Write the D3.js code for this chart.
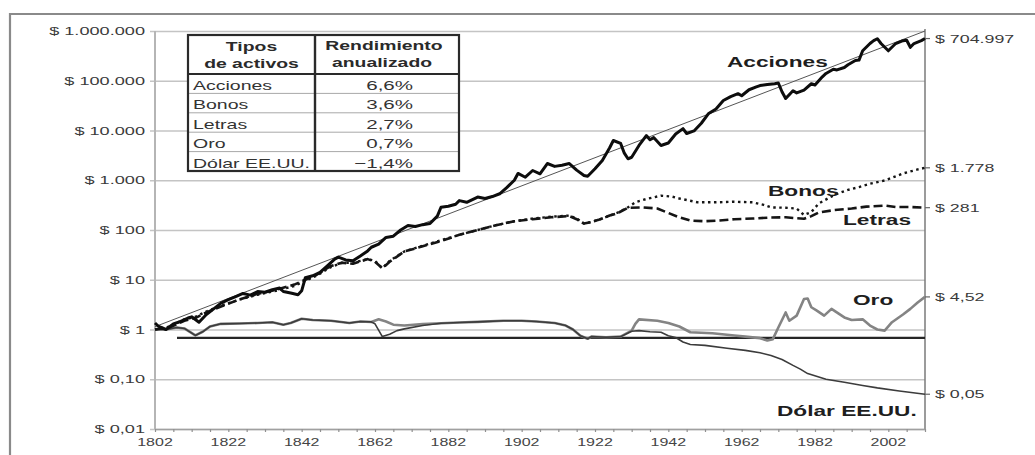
<!DOCTYPE html>
<html>
<head>
<meta charset="utf-8">
<script src="https://cdn.jsdelivr.net/npm/d3@7"></script>
<style>
  html, body { margin: 0; padding: 0; background: #fff; }
  svg { display: block; }
  text { font-family: "Liberation Sans", Arial, Helvetica, sans-serif; }
</style>
</head>
<body>
<svg id="chart" width="1035" height="455"></svg>
<script>
// ---------------- DATA ----------------
const yTickValues = [0.01, 0.1, 1, 10, 100, 1000, 10000, 100000, 1000000];
const yTickLabels = ["$ 0,01", "$ 0,10", "$ 1", "$ 10", "$ 100", "$ 1.000", "$ 10.000", "$ 100.000", "$ 1.000.000"];
const xLabelYears = [1802, 1822, 1842, 1862, 1882, 1902, 1922, 1942, 1962, 1982, 2002];
const xMinorYears = d3.range(1802, 2013, 5);

const tableHeader = [["Tipos", "de activos"], ["Rendimiento", "anualizado"]];
const tableAssets = ["Acciones", "Bonos", "Letras", "Oro", "Dólar EE.UU."];
const tableReturns = ["6,6%", "3,6%", "2,7%", "0,7%", "\u22121,4%"];

const endLabels = ["$ 704.997", "$ 1.778", "$ 281", "$ 4,52", "$ 0,05"];
const endValues = [704997, 1778, 281, 4.52, 0.05];

const acciones = [
  [1802,1.35],[1803,1.15],[1805,1.0],[1807,1.3],[1809,1.45],[1811,1.7],[1812,1.8],[1814,1.4],[1816,2.0],
  [1818,2.6],[1820,3.4],[1822,4.0],[1824,4.6],[1826,5.3],[1828,4.9],[1830,5.8],[1832,5.6],[1834,6.3],
  [1836,6.8],[1837,5.8],[1839,5.4],[1841,5.0],[1842,6.0],[1843,11],[1845,12],[1847,14],[1849,19],
  [1851,26],[1852,28.5],[1854,25],[1856,24],[1858,30],[1860,38],[1861,45],[1863,52],[1865,71],[1867,75],
  [1869,100],[1871,123],[1873,118],[1875,128],[1877,135],[1879,190],[1880,286],[1882,300],[1884,330],
  [1885,390],[1887,360],[1890,460],[1892,430],[1894,470],[1896,535],[1898,720],[1900,1000],[1901,1370],
  [1903,1150],[1905,1570],[1907,1350],[1909,2170],[1911,1900],[1913,2000],[1915,2170],[1917,1600],
  [1919,1250],[1920,1200],[1922,1700],[1924,2500],[1926,4500],[1927,6300],[1929,5500],[1930,3500],
  [1931,2700],[1932,2900],[1934,5000],[1936,7900],[1937,6500],[1938,7200],[1940,5000],[1942,5600],
  [1944,8500],[1946,10900],[1947,8700],[1949,9800],[1951,14000],[1953,22000],[1955,27000],[1957,40000],
  [1959,48000],[1961,55000],[1962,50000],[1964,66000],[1966,75000],[1967,80000],[1969,84000],[1971,87000],
  [1972,90000],[1973,60000],[1974,44000],[1976,63000],[1977,57000],[1979,65000],[1981,87000],[1982,82000],
  [1984,120000],[1985,140000],[1987,170000],[1988,165000],[1990,185000],[1991,210000],[1993,255000],
  [1994,260000],[1995,400000],[1997,560000],[1998,640000],[1999,700000],[2000,560000],[2002,400000],
  [2004,560000],[2006,640000],[2007,650000],[2008,470000],[2009,560000],[2011,640000],[2012,704997]
];
const tendenciaAcciones = [[1802,1.14],[2012,1000000]];

const bonos = [
  [1802,1.0],[1806,1.15],[1810,1.6],[1813,1.8],[1816,2.3],[1820,3.0],[1825,4.0],[1830,5.0],[1835,6.0],
  [1840,7.5],[1843,9.5],[1846,12],[1850,18],[1853,22],[1856,22],[1860,26],[1862,24],[1864,17],[1866,24],
  [1870,37],[1875,48],[1880,62],[1885,80],[1890,100],[1895,125],[1900,150],[1905,170],[1910,185],
  [1915,195],[1917,170],[1919,135],[1921,145],[1923,160],[1926,195],[1928,220],[1931,285],[1933,360],
  [1936,420],[1940,490],[1943,470],[1945,430],[1950,360],[1955,360],[1960,370],[1965,360],[1968,320],
  [1970,285],[1974,280],[1977,270],[1979,200],[1981,230],[1983,340],[1986,450],[1988,535],[1991,640],
  [1994,730],[1997,850],[2001,990],[2004,1200],[2006,1370],[2008,1500],[2010,1650],[2012,1778]
];

const letras = [
  [1802,1.0],[1806,1.1],[1810,1.5],[1813,1.7],[1816,2.2],[1820,2.9],[1825,4.0],[1830,5.2],[1835,6.3],
  [1840,8.0],[1843,10],[1846,12.5],[1850,19],[1853,22],[1856,21],[1860,26],[1862,23],[1864,17],[1866,23],
  [1870,37],[1875,47],[1880,60],[1885,80],[1890,100],[1895,125],[1900,150],[1905,165],[1910,180],
  [1915,190],[1917,165],[1919,135],[1921,145],[1923,160],[1926,195],[1928,215],[1931,280],[1935,285],
  [1939,270],[1942,220],[1945,180],[1948,155],[1952,150],[1956,155],[1960,165],[1965,170],[1970,178],
  [1974,180],[1977,172],[1979,168],[1981,190],[1983,225],[1987,250],[1992,270],[1996,295],[2001,310],
  [2004,290],[2008,290],[2012,281]
];

const oro = [
  [1802,1.0],[1805,1.0],[1808,1.1],[1810,1.05],[1813,0.76],[1815,0.9],[1817,1.15],[1820,1.3],[1825,1.32],
  [1830,1.35],[1834,1.4],[1837,1.25],[1839,1.35],[1842,1.65],[1845,1.55],[1850,1.5],[1855,1.35],
  [1858,1.45],[1861,1.42],[1863,1.6],[1865,1.45],[1867,1.25],[1870,1.2],[1875,1.28],[1880,1.34],
  [1885,1.38],[1890,1.42],[1897,1.5],[1902,1.5],[1906,1.45],[1911,1.35],[1914,1.2],[1916,1.0],
  [1918,0.75],[1920,0.65],[1921,0.72],[1925,0.7],[1929,0.72],[1932,0.95],[1933,1.3],[1934,1.6],
  [1939,1.5],[1942,1.35],[1945,1.15],[1948,0.88],[1954,0.84],[1960,0.76],[1963,0.72],[1967,0.67],
  [1969,0.6],[1970.5,0.64],[1972,1.1],[1974,2.2],[1975,1.5],[1977,1.9],[1979,4.1],[1980,4.2],[1981,2.8],
  [1982.5,2.4],[1984.5,1.9],[1986.5,2.6],[1990,1.75],[1992,1.55],[1995,1.6],[1997,1.2],[1999,1.0],
  [2001,0.95],[2003,1.4],[2006,2.0],[2008,2.6],[2010,3.5],[2012,4.52]
];

const dolar = [
  [1802,1.0],[1805,1.0],[1808,1.1],[1810,1.05],[1813,0.76],[1815,0.9],[1817,1.15],[1820,1.3],[1825,1.32],
  [1830,1.35],[1834,1.4],[1837,1.25],[1839,1.35],[1842,1.65],[1845,1.55],[1850,1.5],[1855,1.35],
  [1858,1.45],[1861,1.42],[1862,1.3],[1864,0.72],[1866,0.8],[1868,0.95],[1870,1.03],[1875,1.2],
  [1880,1.34],[1885,1.38],[1890,1.42],[1897,1.5],[1902,1.5],[1906,1.45],[1911,1.35],[1914,1.2],
  [1916,1.0],[1918,0.75],[1920,0.65],[1921,0.72],[1925,0.7],[1929,0.72],[1932,0.92],[1934,0.95],
  [1937,0.9],[1940,0.88],[1942,0.75],[1944,0.69],[1946,0.56],[1948,0.5],[1952,0.48],[1958,0.42],
  [1963,0.38],[1967,0.34],[1970,0.30],[1973,0.25],[1976,0.19],[1978,0.16],[1980,0.13],[1985,0.1],
  [1990,0.087],[1995,0.075],[1999,0.067],[2005,0.058],[2012,0.05]
];

const lineaReferencia = [[1808,0.68],[2012,0.68]];

// ---------------- LAYOUT ----------------
const svg = d3.select("#chart");
const FONT = "'Liberation Sans', Arial, Helvetica, sans-serif";
const plotL = 155, plotR = 925, plotT = 31, plotB = 429;

const x = d3.scaleLinear().domain([1802, 2012]).range([plotL, plotR]);
const y = d3.scaleLog().domain([0.01, 1000000]).range([plotB, plotT]);

// stretched text helper (the reference is horizontally stretched)
function stext(parent, px, py, str, o) {
  return parent.append("text")
    .attr("transform", `translate(${px},${py}) scale(${o.sx || 1.6},1)`)
    .attr("text-anchor", o.anchor || "start")
    .attr("font-size", o.size)
    .attr("font-weight", o.weight || "normal")
    .attr("fill", o.fill || "#333")
    .style("font-family", FONT)
    .text(str);
}

svg.append("rect").attr("width", 1035).attr("height", 455).attr("fill", "#fff");

// outer frame
svg.append("path")
  .attr("d", "M10,460 L10,14 L1040,14")
  .attr("fill", "none").attr("stroke", "#8a8a8a").attr("stroke-width", 2.2);

// gridlines
const grid = svg.append("g").attr("transform", `translate(${plotR},0)`)
  .call(d3.axisRight(y).tickValues(yTickValues).tickSize(-(plotR - plotL + 5)).tickFormat(""));
grid.select(".domain").remove();
grid.selectAll(".tick line").attr("stroke", "#c4c4c4").attr("stroke-width", 1.6);

// y tick labels
yTickValues.forEach((v, i) => {
  stext(svg, 145, y(v) + 4, yTickLabels[i], { size: 11, sx: 1.65, anchor: "end", fill: "#3a3a3a" });
});

// left axis line
svg.append("line").attr("x1", plotL).attr("x2", plotL).attr("y1", plotT).attr("y2", plotB)
  .attr("stroke", "#b5b5b5").attr("stroke-width", 2);
// right axis line
svg.append("line").attr("x1", plotR).attr("x2", plotR).attr("y1", plotT - 2).attr("y2", plotB)
  .attr("stroke", "#7a7a7a").attr("stroke-width", 1.5);

// x axis
const xAxis = svg.append("g").attr("transform", `translate(0,${plotB})`)
  .call(d3.axisBottom(x).tickValues(xMinorYears).tickSize(3).tickSizeOuter(0).tickFormat(""));
xAxis.select(".domain").attr("stroke", "#a0a0a0").attr("stroke-width", 1.5);
xAxis.selectAll(".tick line").attr("stroke", "#909090").attr("stroke-width", 1.2);
xLabelYears.forEach(yr => {
  stext(svg, x(yr), 446, String(yr), { size: 10, sx: 1.6, anchor: "middle", fill: "#444" });
});

// ---------------- LINES ----------------
const line = d3.line().x(d => x(d[0])).y(d => y(d[1]));

function drawLine(data, stroke, width, dash) {
  const p = svg.append("path").datum(data)
    .attr("d", line).attr("fill", "none")
    .attr("stroke", stroke).attr("stroke-width", width)
    .attr("stroke-linejoin", "round");
  if (dash) p.attr("stroke-dasharray", dash);
  return p;
}

drawLine(lineaReferencia, "#262626", 2.2);
drawLine(oro, "#848484", 2.6);
drawLine(dolar, "#3c3c3c", 1.6);
drawLine(letras, "#151515", 2.6, "9,4");
drawLine(bonos, "#151515", 2.4, "2.5,3.5");
drawLine(tendenciaAcciones, "#555", 1);
drawLine(acciones, "#0d0d0d", 3);

// end ticks and labels on the right
endValues.forEach((v, i) => {
  svg.append("line").attr("x1", plotR).attr("x2", plotR + 5)
    .attr("y1", y(v)).attr("y2", y(v)).attr("stroke", "#666").attr("stroke-width", 1.2);
  stext(svg, 935, y(v) + 4, endLabels[i], { size: 11, sx: 1.62, fill: "#3a3a3a" });
});

// series labels
const seriesLabelStyle = { size: 14, sx: 1.62, weight: "bold", fill: "#1e1e1e" };
stext(svg, 727, 67, "Acciones", seriesLabelStyle);
stext(svg, 768, 196, "Bonos", seriesLabelStyle);
stext(svg, 843, 225, "Letras", seriesLabelStyle);
stext(svg, 853, 305, "Oro", seriesLabelStyle);
stext(svg, 777, 416, "Dólar EE.UU.", seriesLabelStyle);

// ---------------- TABLE ----------------
const tL = 188, tR = 459, tT = 35, tHead = 74, rowH = 19.4, colX = 315;
const tB = tHead + rowH * tableAssets.length;
const tbl = svg.append("g");
tbl.append("rect").attr("x", tL).attr("y", tT).attr("width", tR - tL).attr("height", tB - tT)
  .attr("fill", "#fff");
tableAssets.forEach((a, i) => {
  if (i > 0) {
    tbl.append("line").attr("x1", tL).attr("x2", tR)
      .attr("y1", tHead + rowH * i).attr("y2", tHead + rowH * i)
      .attr("stroke", "#a8a8a8").attr("stroke-width", 1);
  }
  stext(tbl, tL + 5, tHead + rowH * i + 16, a, { size: 13, sx: 1.5, fill: "#333" });
  stext(tbl, 413, tHead + rowH * i + 16, tableReturns[i], { size: 13, sx: 1.58, anchor: "end", fill: "#333" });
});
tbl.append("line").attr("x1", tL).attr("x2", tR).attr("y1", tHead).attr("y2", tHead)
  .attr("stroke", "#2a2a2a").attr("stroke-width", 2.2);
tbl.append("line").attr("x1", colX).attr("x2", colX).attr("y1", tT).attr("y2", tB)
  .attr("stroke", "#2a2a2a").attr("stroke-width", 2.4);
tbl.append("rect").attr("x", tL).attr("y", tT).attr("width", tR - tL).attr("height", tB - tT)
  .attr("fill", "none").attr("stroke", "#2a2a2a").attr("stroke-width", 2.2);

const headStyle = { size: 12.5, sx: 1.55, weight: "bold", anchor: "middle", fill: "#2a2a2a" };
stext(tbl, (tL + colX) / 2, 51, tableHeader[0][0], headStyle);
stext(tbl, (tL + colX) / 2, 68, tableHeader[0][1], headStyle);
stext(tbl, 384, 50, tableHeader[1][0], headStyle);
stext(tbl, 382, 67, tableHeader[1][1], headStyle);
</script>
</body>
</html>
